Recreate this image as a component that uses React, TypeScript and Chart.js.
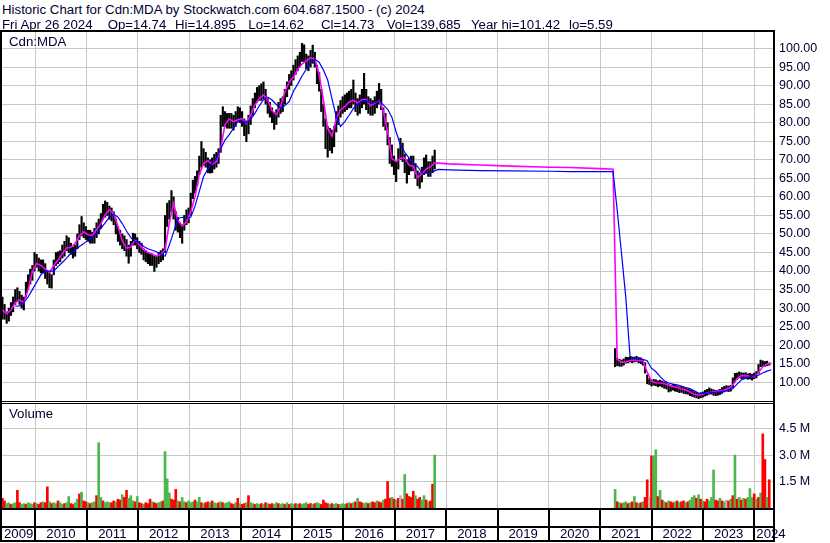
import React, { useEffect, useRef } from "react";
import { Chart, registerables } from "chart.js";
Chart.register(...registerables);

// ---------- DATA ----------
// Price bars: one bar per half month. Segment 1 = 2009-2017, segment 2 = 2021-2024
const seg1Start = 2009.36;
const seg2Start = 2021.29;
const barStep = 1 / 24;

const seg1Low = [
  27, 27, 25.9, 26.5, 28, 29, 31, 32, 31, 30,
  29.5, 33, 35, 36.5, 37.5, 40, 41, 40, 39.5, 39.5,
  38, 36.5, 35.5, 35.4, 39, 41.5, 42, 42.5, 43.5, 44,
  45.5, 45, 44.5, 43.5, 44, 46, 48.5, 49.5, 49, 48.5,
  48, 47.5, 47.5, 47.5, 49, 50, 51.5, 54, 54.5, 55,
  54, 53.5, 52.5, 50, 48, 47, 46, 45.5, 44, 42.1,
  44, 47, 47, 46, 45, 44.5, 43, 42.5, 42, 41.5,
  41.5, 39.9, 41, 42, 42.5, 43, 45, 52, 54, 56,
  54, 51, 50.5, 49, 47.5, 51, 52.5, 53, 55, 59.5,
  61, 63, 66, 68, 68.5, 68, 66.5, 66.4, 66.5, 67.5,
  68, 69, 72, 79, 79, 78.5, 78.5, 78.5, 78, 79,
  80.5, 80, 79, 76.5, 74.9, 77, 79.5, 82, 84, 85.5,
  86, 86, 86.5, 85, 82.5, 81.5, 80, 78.2, 79.5, 81.5,
  82.5, 83, 85, 87, 89, 90, 91.5, 93, 94, 95,
  96.5, 96.5, 94.5, 94, 95, 96, 95, 90.5, 88.5, 83,
  79, 73, 70.7, 72.5, 71.8, 73.5, 77.5, 79.5, 81.5, 82.5,
  83, 83.5, 84, 84, 85, 83, 82, 82.5, 84, 85,
  83.5, 82.5, 82, 82, 82.5, 84, 85, 83.5, 79, 78,
  74, 69, 68.2, 66, 64.1, 67.5, 70, 69.5, 66.5, 63.7,
  66, 67, 67, 65, 63, 62.3, 64, 66, 66.5, 65.5,
  65.5, 66.5, 67.5,
];
const seg1High = [
  33, 31, 29, 30, 31.5, 33, 35, 35.5, 34.5, 33.5,
  33, 37, 39, 40.5, 41.5, 45, 44.5, 43.5, 43, 43,
  42, 40, 39.5, 39, 43, 45, 45.2, 45.5, 47, 48,
  49.5, 49, 47.5, 46.5, 47, 50, 52.5, 54.7, 53, 52,
  51, 51, 50.5, 51.5, 53, 54, 55.5, 58, 58.9, 58.5,
  57.5, 57, 56, 54, 52, 51, 50, 49.5, 48.5, 47,
  48, 50.2, 50, 49, 48, 47.5, 46, 45.5, 45, 44.5,
  44.5, 44, 44, 45, 45.5, 46, 55, 58.3, 59, 61.7,
  60, 56, 54.5, 53, 52.5, 55, 56.5, 57, 61, 64.5,
  65.5, 67, 71, 74.9, 73, 72, 70.5, 70, 70.5, 71.5,
  72, 73, 82, 84.3, 83, 82.5, 82.5, 82.5, 82, 83,
  84.3, 84, 83, 81, 80.5, 82, 84.5, 86.5, 88, 89.5,
  90, 90.5, 91, 89, 86.5, 85.5, 84, 82.5, 83.5, 85.5,
  86.5, 87, 89, 91, 93, 94, 95.5, 97, 98, 99,
  101.4, 101, 98.5, 98, 99.5, 100.9, 99, 95.5, 93.5, 89,
  85, 81, 79, 78.5, 78, 79, 83, 84.5, 86, 87,
  87.5, 88, 88.5, 89, 91.5, 88, 86.5, 87.5, 89, 93.3,
  89, 87, 86.5, 86, 87, 88.5, 90.6, 89, 84, 82.5,
  80, 76, 74, 71, 69.5, 73, 75.8, 74.5, 71.5, 70,
  70.5, 71, 71, 69, 67, 66.5, 68, 70.5, 71.3, 69.5,
  69.5, 71, 72.6,
];
const seg2Low = [
  14.2, 14.5, 14.3, 14.3, 14.6, 15.2, 15.3, 15.5, 15.3, 15.5,
  15.6, 15.3, 15, 14.6, 12.5, 9.6, 9.4, 9, 9.2, 9.1,
  8.8, 9, 8.7, 8.4, 8.2, 7.4, 7.6, 7.9, 7.6, 7.5,
  7.2, 7.3, 7, 6.9, 6.8, 6.4, 6.2, 6, 5.8, 5.6,
  5.8, 6, 6.3, 6.5, 6.8, 6.8, 6.5, 6.4, 6.5, 6.7,
  7, 7.4, 7.6, 7.5, 7.6, 8.6, 10.1, 10.8, 11.2, 11,
  10.9, 11, 10.8, 10.9, 10.6, 11, 11.2, 12.3, 14.2, 14.4,
  14.3, 14.5, 14.6,
];
const seg2High = [
  19.1, 16.5, 16.2, 16, 16.3, 16.8, 16.7, 16.9, 16.8, 16.8,
  17, 16.7, 16.6, 16.2, 15.3, 12, 11, 10.6, 10.8, 10.7,
  10.4, 10.6, 10.3, 10.1, 9.9, 9.4, 9.2, 9.5, 9.3, 9,
  8.8, 8.9, 8.6, 8.5, 8.3, 8, 7.8, 7.5, 7.3, 7,
  7.2, 7.4, 7.8, 8.1, 8.5, 8.2, 8, 7.8, 7.9, 8.1,
  8.6, 8.9, 9.1, 9, 9.2, 11.2, 12.4, 12.5, 12.8, 12.6,
  12.5, 12.6, 12.3, 12.4, 12.2, 12.5, 12.9, 14.8, 16, 15.8,
  15.6, 15.7, 15.2,
];

// Moving averages, one point per month (magenta = short, blue = long)
const maStep = 1 / 12;
const seg1MaShort = [
  29.5, 28.5, 29.5, 31.5, 32.2, 31.5, 35, 39.8, 42, 41.5,
  40.5, 39.6, 41.5, 43, 44.7, 46.2, 46.4, 47.5, 49.5, 50.6,
  49.8, 49.6, 51.2, 52.7, 55.2, 56.5, 55.5, 52, 48.2, 46.2,
  46.5, 48.3, 47, 45.8, 45, 44.6, 44, 44.5, 45.7, 53,
  58.2, 53.6, 52.2, 53.2, 56, 60.1, 66, 69, 69.8, 68.8,
  69.5, 73, 79.5, 81, 80.3, 80.8, 81.1, 79.8, 82, 84.8,
  86.5, 87.5, 86.2, 83.2, 82.2, 84.5, 88.2, 91, 92.3, 94.4,
  95.8, 96.7, 97.5, 97.2, 93, 86.1, 78.5, 76.4, 81, 83.5,
  84.3, 85.6, 86, 85.3, 86.2, 86.3, 84.6, 85.2, 86, 83.2,
  77.5, 70.3, 69.5, 70.4, 70.5, 68.6, 68.2, 65.2, 66.2, 67.5,
  68.1, 69.1,
];
const seg1MaLong = [
  null, null, null, 30.5, 30.6, 31.5, 33, 35, 37, 39,
  40, 40, 40, 41.2, 42.3, 43.5, 44.8, 45.7, 46.6, 47.4,
  48.4, 49.1, 50.1, 51.5, 53, 54.5, 55.3, 54.5, 52.8, 50.8,
  49, 48, 47.6, 46.6, 46, 45.6, 45.2, 44.6, 44, 47,
  50.5, 54.2, 54.5, 54.3, 54.5, 57.5, 61.5, 65.5, 67.5, 69,
  70.2, 73, 75.3, 76.8, 78.5, 80.3, 80.5, 80, 80.9, 82.5,
  84.5, 86.2, 86.9, 86.1, 84.9, 83.9, 84.6, 85.7, 88.5, 90.4,
  92.6, 94.4, 96.2, 97.1, 96.3, 94.2, 91.5, 86.5, 81.6, 79,
  80.3, 82, 83.8, 85, 85.8, 86, 85.3, 85.4, 86, 84.8,
  83.6, 81.5, 77.5, 74, 72, 70.5, 69.1, 68.2, 66.5, 66.4,
  66.5, 67,
];
const gapYears = [2017.85, 2018.05, 2018.66, 2019.25, 2020.03, 2020.4, 2021.0, 2021.25];
const gapMaShort = [69.1, 68.9, 68.6, 68.3, 68.0, 67.9, 67.6, 67.45];
const gapMaLong = [67.4, 67.3, 67.1, 67.0, 66.9, 66.8, 66.8, 66.8];
const seg2MaStart = 2021.33;
const seg2MaShort = [
  16.2, 15.4, 15.5, 15.9, 16, 15.9, 15.8, 12.8, 10.3, 9.9,
  9.8, 9.7, 9.2, 8.9, 8.6, 8.2, 7.9, 7.4, 6.8, 6.5,
  6.8, 7.1, 7.3, 7.5, 7.7, 7.9, 8.3, 9.2, 11, 11.8,
  11.8, 11.6, 11.5, 12.6, 14.2, 14.9, 15.1,
];
const seg2MaLong = [
  56.5, 44.9, 33.1, 17, 16.4, 16.3, 16.2, 15.8, 13.8, 12.9,
  11.6, 10.4, 9.8, 9.5, 9.3, 9, 8.6, 8.3, 7.7, 7.1,
  7, 7.1, 7.2, 7.3, 7.4, 7.6, 7.9, 8.3, 9.5, 10.6,
  11.2, 11.5, 11.7, 11.9, 12.5, 13, 13.4,
];

// Volume in millions, same half-month bars. r = red, g = green, s = grey
const seg1Vol = [
  0.55, 0.4, 0.25, 0.3, 0.2, 0.25, 0.3, 1.0, 0.3, 0.2,
  0.25, 0.2, 0.3, 0.25, 0.2, 0.3, 0.25, 0.2, 0.3, 0.35,
  0.3, 1.2, 0.35, 0.25, 0.3, 0.25, 0.4, 0.3, 0.2, 0.25,
  0.3, 0.65, 0.25, 0.2, 0.3, 0.5, 0.8, 0.9, 0.4, 0.35,
  0.3, 0.25, 0.3, 0.35, 0.7, 3.7, 0.6, 0.4, 0.3, 0.35,
  0.3, 0.3, 0.4, 0.35, 0.5, 0.45, 0.75, 0.6, 1.0, 0.55,
  0.7, 0.4, 0.35, 0.65, 0.3, 0.25, 0.2, 0.3, 0.25, 0.5,
  0.35, 0.3, 0.25, 0.3, 0.35, 0.4, 3.2, 1.65, 0.85, 0.5,
  0.45, 1.05, 0.4, 0.35, 0.6, 0.35, 0.3, 0.4, 0.3, 0.35,
  0.45, 0.35, 0.6, 0.3, 0.25, 0.3, 0.35, 0.3, 0.4, 0.3,
  0.25, 0.3, 0.35, 0.3, 0.25, 0.3, 0.35, 0.25, 0.2, 0.3,
  0.55, 0.25, 0.2, 0.25, 0.3, 0.7, 0.3, 0.25, 0.2, 0.25,
  0.2, 0.25, 0.2, 0.3, 0.25, 0.2, 0.25, 0.2, 0.3, 0.25,
  0.2, 0.25, 0.2, 0.3, 0.2, 0.25, 0.2, 0.25, 0.2, 0.25,
  0.2, 0.25, 0.3, 0.2, 0.25, 0.2, 0.25, 0.3, 0.25, 0.2,
  0.45, 0.3, 0.25, 0.2, 0.25, 0.2, 0.25, 0.2, 0.2, 0.25,
  0.2, 0.25, 0.3, 0.25, 0.3, 0.35, 0.55, 0.35, 0.3, 0.25,
  0.3, 0.25, 0.3, 0.35, 0.3, 0.4, 0.35, 0.3, 0.45, 0.5,
  1.5, 0.55, 0.6, 0.5, 0.45, 0.55, 0.7, 0.5, 1.9, 0.8,
  0.65, 0.6, 0.95, 0.7, 0.5, 0.6, 0.45, 0.7, 0.45, 0.35,
  0.4, 1.35, 3.0,
];
const seg1VolColor =
  "rrggrggrrg" + "grgggrgrrg" + "rrgrggrggr" + "ggrrggrgrr" + "grggrggrgg" +
  "grrgrrgrrg" + "ggrgrrgrrr" + "grrggrgggr" + "rrgrggrggg" + "rggrgrrgrg" +
  "grgrgggrrg" + "rgrrgrggrg" + "grgrgrrggr" + "ggrgrggrgr" + "gggrrgrggr" +
  "rrrgrggrgg" + "grgrgrgrrg" + "grgrrgrrgr" + "rrgrgrsrgr" + "rrrgrrggrg" + "rrg";
const seg2Vol = [
  1.05, 0.35, 0.3, 0.25, 0.3, 0.35, 0.25, 0.3, 0.35, 0.65,
  0.3, 0.25, 0.3, 0.35, 0.6, 1.6, 0.6, 2.95, 2.95, 3.3,
  0.65, 1.0, 0.45, 0.35, 0.3, 0.4, 0.35, 0.3, 0.35, 0.4,
  0.3, 0.35, 0.4, 0.3, 0.35, 0.45, 0.6, 0.7, 0.55, 0.75,
  0.5, 0.4, 0.35, 0.5, 0.4, 0.6, 2.15, 0.45, 0.4, 0.55,
  0.4, 0.35, 0.45, 0.4, 0.5, 0.7, 3.0, 0.5, 0.6, 0.45,
  0.55, 0.5, 0.6, 1.1, 0.6, 0.8, 0.5, 0.6, 0.85, 4.2,
  2.75, 0.6, 1.6,
];
const seg2VolColor =
  "grgrggrgrg" + "rgrgrrsrgg" + "rgrgrgrrgr" + "grrgrgggrg" + "rgrrgggrrg" +
  "rgsrgrgrgr" + "grgggrgrgr" + "rgr";

// Axis ticks
const yearTicks = [2010, 2011, 2012, 2013, 2014, 2015, 2016, 2017, 2018, 2019, 2020, 2021, 2022, 2023, 2024];
const yearLabels = [2009, 2010, 2011, 2012, 2013, 2014, 2015, 2016, 2017, 2018, 2019, 2020, 2021, 2022, 2023, 2024];
const priceTicks = [10, 15, 20, 25, 30, 35, 40, 45, 50, 55, 60, 65, 70, 75, 80, 85, 90, 95, 100];
const volTicks = [1.5, 3.0, 4.5];

const headerLine1 = "Historic Chart for Cdn:MDA by Stockwatch.com 604.687.1500 - (c) 2024";
const headerLine2Parts = ["Fri Apr 26 2024", "Op=14.74", "Hi=14.895", "Lo=14.62", "Cl=14.73", "Vol=139,685", "Year hi=101.42", "lo=5.59"];
const headerLine2Left = [2, 107.7, 175, 248.3, 321, 386.7, 471, 569];

// ---------- STYLE ----------
const FONT = '"Liberation Sans", Arial, Helvetica, sans-serif';
const TEXT = "#000030";
const GRID = "#c8c8c8";
const X_MIN = 2009.352;
const X_MAX = 2024.364;
const VOL_COLORS: Record<string, string> = { r: "#ff0000", g: "#4cb84c", s: "#b4b4b4" };

function bars(start: number, lows: number[], highs: number[]) {
  return lows.map((lo, i) => ({ x: start + i * barStep, y: [lo, highs[i]] }));
}
function line(start: number, step: number, vals: (number | null)[]) {
  return vals.map((v, i) => ({ x: start + i * step, y: v }));
}
function gapLine(vals: number[]) {
  return gapYears.map((x, i) => ({ x, y: vals[i] }));
}
function volBars(start: number, vols: number[]) {
  return vols.map((v, i) => ({ x: start + i * barStep, y: v }));
}
function volColors(codes: string) {
  return codes.split("").map((c) => VOL_COLORS[c]);
}

function xScale() {
  return {
    type: "linear" as const,
    min: X_MIN,
    max: X_MAX,
    offset: false,
    afterBuildTicks: (s: any) => {
      s.ticks = yearTicks.map((v) => ({ value: v }));
    },
    ticks: { display: false },
    grid: { color: GRID, lineWidth: 1, drawTicks: false, offset: false },
    border: { display: false },
  };
}
function fitY(s: any) {
  s.width = 57;
  s.paddingTop = 0;
  s.paddingBottom = 0;
}

const bandPlugin = {
  id: "yearBand",
  afterDraw(chart: any) {
    const { ctx, chartArea } = chart;
    const xs = chart.scales.x;
    const base = Math.round(chartArea.bottom);
    const right = chartArea.right + 2;
    ctx.save();
    ctx.fillStyle = "#000";
    ctx.fillRect(0, base, right, 2);
    ctx.fillRect(0, base + 18, right, 2);
    ctx.fillRect(0, base + 32, right, 2);
    yearTicks.forEach((y) => {
      const px = Math.round(xs.getPixelForValue(y));
      ctx.fillRect(px - 1, base, 2, 34);
    });
    ctx.font = "13.2px " + FONT;
    ctx.fillStyle = TEXT;
    ctx.textAlign = "center";
    ctx.textBaseline = "alphabetic";
    yearLabels.forEach((y) => {
      const a = Math.max(chartArea.left, xs.getPixelForValue(y));
      const b = Math.min(chartArea.right, xs.getPixelForValue(y + 1));
      const w = ctx.measureText(String(y)).width;
      const cx = Math.max((a + b) / 2, a + w / 2 + 2);
      ctx.fillText(String(y), cx, base + 29.5);
    });
    ctx.restore();
  },
};

export default function App() {
  const priceRef = useRef<HTMLCanvasElement>(null);
  const volRef = useRef<HTMLCanvasElement>(null);

  useEffect(() => {
    const maShort = [
      ...line(seg1Start, maStep, seg1MaShort),
      ...gapLine(gapMaShort),
      ...line(seg2MaStart, maStep, seg2MaShort),
    ];
    const maLong = [
      ...line(seg1Start, maStep, seg1MaLong),
      ...gapLine(gapMaLong),
      ...line(seg2MaStart, maStep, seg2MaLong),
    ];
    const priceBars = [...bars(seg1Start, seg1Low, seg1High), ...bars(seg2Start, seg2Low, seg2High)];

    const pc = new Chart(priceRef.current as HTMLCanvasElement, {
      type: "bar",
      data: {
        datasets: [
          {
            type: "line",
            label: "MA long",
            data: maLong as any,
            borderColor: "#0000ff",
            borderWidth: 1.2,
            pointRadius: 0,
            tension: 0,
            spanGaps: false,
            order: 1,
          } as any,
          {
            type: "line",
            label: "MA short",
            data: maShort as any,
            borderColor: "#ff00ff",
            borderWidth: 1.6,
            pointRadius: 0,
            tension: 0,
            order: 2,
          } as any,
          {
            type: "bar",
            label: "Price",
            data: priceBars as any,
            backgroundColor: "#000000",
            barThickness: 1.5,
            order: 3,
          } as any,
        ],
      },
      options: {
        animation: false,
        responsive: false,
        events: [],
        layout: { padding: { left: 2, right: 0, top: 8, bottom: 8 } },
        plugins: { legend: { display: false }, tooltip: { enabled: false }, title: { display: false } },
        scales: {
          x: xScale(),
          y: {
            type: "linear",
            position: "right",
            min: 5.23,
            max: 104.45,
            afterBuildTicks: (s: any) => {
              s.ticks = priceTicks.map((v) => ({ value: v }));
            },
            afterFit: fitY,
            ticks: {
              color: TEXT,
              padding: 6,
              font: { family: FONT, size: 12.5 },
              callback: (v: any) => Number(v).toFixed(2),
            },
            grid: { color: GRID, lineWidth: 1, drawTicks: false },
            border: { display: false },
          },
        },
      } as any,
    });

    const vc = new Chart(volRef.current as HTMLCanvasElement, {
      type: "bar",
      data: {
        datasets: [
          {
            label: "Volume",
            data: [...volBars(seg1Start, seg1Vol), ...volBars(seg2Start, seg2Vol)] as any,
            backgroundColor: [...volColors(seg1VolColor), ...volColors(seg2VolColor)],
            barThickness: 2,
          },
        ],
      },
      options: {
        animation: false,
        responsive: false,
        events: [],
        layout: { padding: { left: 2, right: 0, top: 8, bottom: 35 } },
        plugins: { legend: { display: false }, tooltip: { enabled: false } },
        scales: {
          x: xScale(),
          y: {
            type: "linear",
            position: "right",
            min: 0,
            max: 5.95,
            afterBuildTicks: (s: any) => {
              s.ticks = volTicks.map((v) => ({ value: v }));
            },
            afterFit: fitY,
            ticks: {
              color: TEXT,
              padding: 6,
              font: { family: FONT, size: 12.5 },
              callback: (v: any) => Number(v).toFixed(1) + " M",
            },
            grid: { color: GRID, lineWidth: 1, drawTicks: false },
            border: { display: false },
          },
        },
      } as any,
      plugins: [bandPlugin],
    });

    return () => {
      pc.destroy();
      vc.destroy();
    };
  }, []);

  const txt: React.CSSProperties = {
    position: "absolute",
    fontFamily: FONT,
    fontSize: 13.25,
    lineHeight: "13px",
    color: TEXT,
    whiteSpace: "pre",
  };
  const blk = (left: number, top: number, width: number, height: number): React.CSSProperties => ({
    position: "absolute",
    left,
    top,
    width,
    height,
    background: "#000",
  });

  return (
    <div
      style={{
        position: "fixed",
        left: 0,
        top: 0,
        width: 830,
        height: 543,
        background: "#fff",
        overflow: "hidden",
      }}
    >
      <canvas
        ref={priceRef}
        width={830}
        height={384}
        style={{ position: "absolute", left: 0, top: 24, width: 830, height: 384 }}
      />
      <canvas
        ref={volRef}
        width={830}
        height={148}
        style={{ position: "absolute", left: 0, top: 395, width: 830, height: 148 }}
      />
      <div style={{ ...txt, left: 2, top: 2.5 }}>{headerLine1}</div>
      {headerLine2Parts.map((t, i) => (
        <div key={i} style={{ ...txt, left: headerLine2Left[i], top: 17.5 }}>
          {t}
        </div>
      ))}
      <div style={{ ...txt, left: 9, top: 35 }}>Cdn:MDA</div>
      <div style={{ ...txt, left: 9, top: 406.5 }}>Volume</div>
      <div style={blk(0, 30, 775, 2)} />
      <div style={blk(0, 401, 775, 1)} />
      <div style={blk(0, 403, 775, 1)} />
      <div style={blk(0, 30, 2, 512)} />
      <div style={blk(773, 30, 2, 512)} />
    </div>
  );
}
